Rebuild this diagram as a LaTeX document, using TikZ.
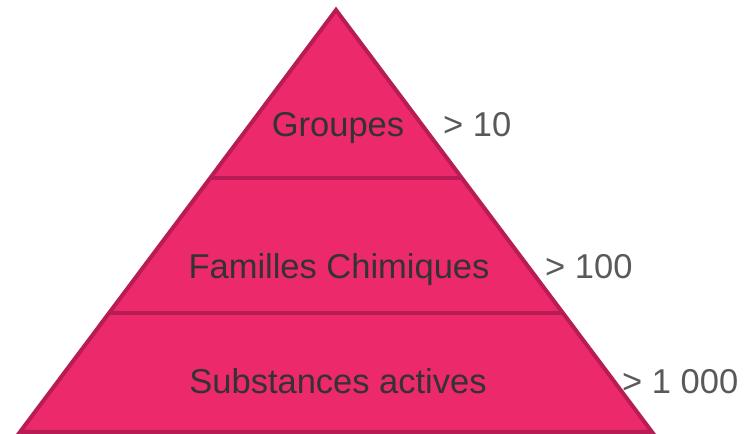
\documentclass[tikz,border=0pt]{standalone}
\usepackage{fontspec}
\setmainfont{Liberation Sans}
\usetikzlibrary{calc, positioning}
\definecolor{pyrfill}{HTML}{EC296B}
\definecolor{pyredge}{HTML}{B71C55}
\definecolor{labtext}{HTML}{333333}
\definecolor{counttext}{HTML}{595959}
\tikzset{
  layer/.style={fill=pyrfill, draw=pyredge, line width=4pt, line join=miter},
  divider/.style={draw=pyredge, line width=4pt},
  level/.style={text=labtext, anchor=base, inner sep=0pt, font=\fontsize{34.5}{40}\selectfont},
  count/.style={text=counttext, anchor=base west, inner sep=0pt, font=\fontsize{34.5}{40}\selectfont}
}

\begin{document}
\begin{tikzpicture}[x=1pt, y=1pt]
\useasboundingbox (0,0) rectangle (753,434);
\coordinate (apex) at (336,424);
\coordinate (base left) at (20,2);
\coordinate (base right) at (652,2);
\draw[layer] (apex) -- (base right) -- (base left) -- cycle;
%
\draw[divider] ($(apex)!0.398!(base left)$) -- ($(apex)!0.398!(base right)$);
\draw[divider] ($(apex)!0.718!(base left)$) -- ($(apex)!0.718!(base right)$);
%
\node[level] (groupes) at (338,297) {Groupes};
\node[level] (familles) at (339,155) {Familles Chimiques};
\node[level] (substances) at (338,40) {Substances actives};
%
\node[count] (n groupes) at (443,297) {> 10};
\node[count] (n familles) at (545,155) {> 100};
\node[count] (n substances) at (622,40) {> 1 000};
\end{tikzpicture}
\end{document}
